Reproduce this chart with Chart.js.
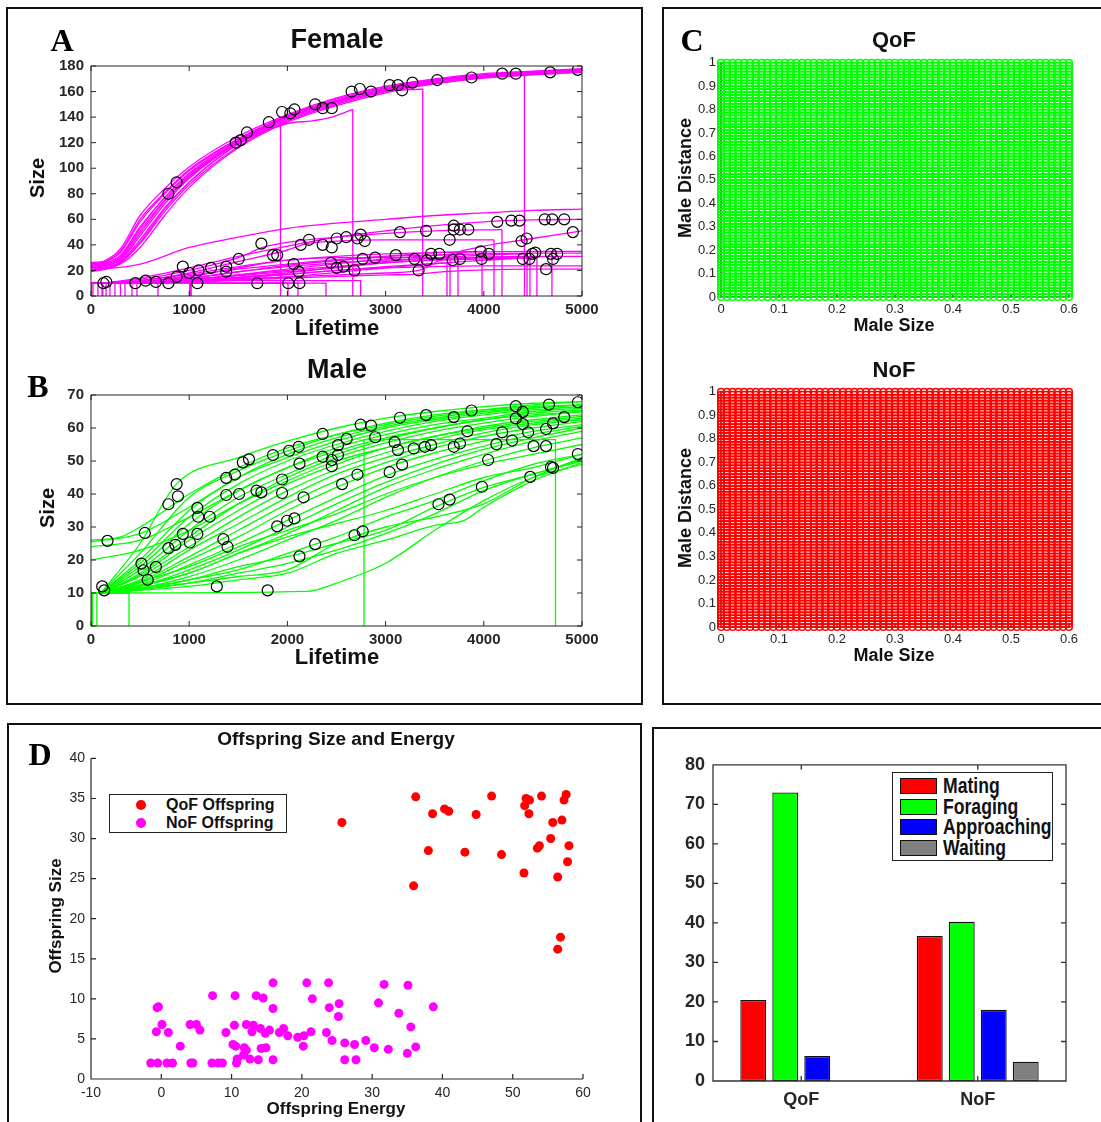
<!DOCTYPE html>
<html><head><meta charset="utf-8">
<script src="https://cdn.jsdelivr.net/npm/chart.js@4.4.1/dist/chart.umd.min.js"></script>
<style>
body{margin:0;background:#fff;}
#page{position:relative;width:1101px;height:1122px;overflow:hidden;background:#fff;font-family:"Liberation Sans",Arial,sans-serif;}
.box{position:absolute;border:2px solid #111;box-sizing:border-box;}
canvas{position:absolute;}
.t{position:absolute;transform:translate(-50%,-50%);white-space:nowrap;color:#111;font-weight:bold;line-height:1;z-index:5;}
.r{transform:translate(-50%,-50%) rotate(-90deg);}
.letter{font-family:"Liberation Serif","DejaVu Serif",serif;font-weight:bold;color:#000;}
.legend{position:absolute;border:1.5px solid #222;background:#fff;box-sizing:border-box;z-index:6;}
.lg-row{position:absolute;white-space:nowrap;font-weight:bold;line-height:1;color:#111;}
</style></head>
<body><div id="page">
<div class="box" style="left:6px;top:7px;width:637px;height:698px"></div>
<div class="box" style="left:662px;top:7px;width:450px;height:698px"></div>
<div class="box" style="left:7px;top:723px;width:635px;height:410px"></div>
<div class="box" style="left:652px;top:727px;width:460px;height:410px"></div>
<canvas id="cA" width="620" height="290" style="left:0;top:50px"></canvas>
<canvas id="cB" width="620" height="290" style="left:0;top:379px"></canvas>
<canvas id="cC1" width="430" height="290" style="left:660px;top:50px"></canvas>
<canvas id="cC2" width="430" height="290" style="left:660px;top:379px"></canvas>
<canvas id="cD" width="620" height="376" style="left:0;top:744px"></canvas>
<canvas id="cE" width="430" height="374" style="left:660px;top:746px"></canvas>
</div>
<script>
// ---------------- DATA ----------------
// Panel A (Female): growth trajectories as [lifetime, size] pairs
const femaleUpper = [
 [[0,26],[150,28],[300,37],[500,63],[750,84],[1000,101],[1500,125],[2000,142],[2500,155],[3000,164],[3500,170],[4000,174],[4500,176],[5000,178]],
 [[0,25],[150,27],[300,34],[500,58],[750,80],[1000,98],[1500,123],[2000,141],[2500,154],[3000,164],[3500,169.5],[4000,173],[4500,175.5],[5000,177.5]],
 [[0,24],[150,26],[300,32],[500,54],[750,77],[1000,96],[1500,122],[2000,140],[2500,153],[3000,163],[3500,169],[4000,173],[4500,175],[5000,177]],
 [[0,23],[150,25],[300,30],[500,51],[750,75],[1000,94],[1500,121],[2000,140],[2500,153],[3000,162],[3500,168.5],[4000,172.5],[4500,175],[5000,177]],
 [[0,22],[150,24],[300,28],[500,47],[750,72],[1000,92],[1500,120],[2000,139],[2500,152],[3000,162],[3500,168],[4000,172],[4500,174.5],[5000,176.5]],
 [[0,21],[150,23],[300,27],[500,44],[750,69],[1000,89],[1500,119],[2000,138],[2500,151],[3000,161],[3500,167],[4000,171.5],[4500,174],[5000,176]],
 [[0,20],[150,22],[300,26],[500,41],[750,66],[1000,87],[1500,117],[2000,137],[2500,150],[3000,160],[3500,166.5],[4000,171],[4500,173.5],[5000,175.5]],
 [[0,19],[150,21],[300,25],[500,38],[750,63],[1000,85],[1500,116],[2000,136],[2500,149],[3000,159],[3500,166],[4000,170.5],[4500,173],[5000,175]],
 [[0,24],[150,26],[300,31],[500,53],[750,77],[1000,95],[1500,121],[1930,139]],
 [[0,20],[150,22],[300,26],[500,42],[750,68],[1000,89],[1500,119],[2000,135],[2250,137],[2450,140],[2666,146]],
 [[0,25],[150,27],[300,35],[500,60],[750,81],[1000,99],[1500,123],[2000,140],[2500,152],[3000,160],[3378,162]],
 [[0,22],[150,24],[300,29],[500,49],[750,74],[1000,93],[1500,121],[2000,140],[2500,153],[3000,162],[3500,168],[4000,172.5],[4414,175]]
];
const femaleLower = [
 [[0,20],[500,25],[1000,38],[1500,46],[2000,53],[2500,57],[3000,60],[3500,63],[4000,65],[4500,67],[5000,68]],
 [[120,10],[500,14],[1000,22],[1500,31],[2000,39],[2500,46],[3000,51],[3500,55],[4000,58],[4500,59.5],[5000,60]],
 [[120,10],[500,13],[1000,20],[1500,30],[1750,38],[2000,42],[2500,46],[3000,49],[3500,51],[4185,52]],
 [[120,10],[500,12],[1000,18],[1500,27],[2000,36],[2200,41],[2500,43],[3000,44],[3500,44],[4104,44]],
 [[120,10],[500,11],[1000,15],[1500,22],[2000,28],[2500,30],[3000,30],[3656,30]],
 [[120,10],[1000,12],[2000,15],[3000,18],[3336,20],[3673,33],[4000,39],[4500,45],[5000,51]],
 [[120,10],[500,12],[1000,17],[1500,23],[2000,28],[2500,31],[3000,33],[3500,34],[4000,34.5],[4500,35],[5000,35]],
 [[120,10],[500,11],[1000,16],[1500,21],[2000,25],[2500,28.5],[3000,31],[3500,32],[4000,33],[4500,33.5],[5000,33.5]],
 [[120,10],[500,11],[1000,14],[1500,19],[2000,23],[2500,26],[3000,28],[3500,29.5],[4000,30.5],[4500,31],[5000,31]],
 [[120,10],[1000,13],[2000,19],[2500,22],[3000,26],[3500,28],[4000,29],[4541,30]],
 [[120,10],[1000,12],[2000,17],[2500,20],[3000,22],[3500,23],[4000,23.5],[4500,23.5],[5000,23.5]],
 [[120,10],[1000,11],[2000,14],[3000,16.5],[3300,17],[3600,19],[4000,20.5],[4500,21],[5000,21]],
 [[120,10],[1000,12],[2000,17],[3000,23],[3625,26]],
 [[120,10],[1000,13],[2000,21],[3000,29],[3737,33]],
 [[120,10],[1000,14],[2000,24],[3000,31],[3500,34],[3982,35]],
 [[120,10],[1000,12],[2000,18],[3000,27],[4000,32],[4440,33]],
 [[120,10],[1000,11],[2000,15],[3000,22],[4000,28],[4470,30]],
 [[120,10],[1000,13],[2000,20],[3000,26],[4000,30],[4694,31]]
];
// short-lived individuals: [birth, death, size]
const femaleStubs = [[0,20,10],[0,71,10],[0,112,10],[0,153,10],[0,193,10],[0,244,10],[0,346,10],[0,417,10],[0,468,10],[0,682,10],[120,1008,10],[1008,2006,10],[1008,2108,10],[300,2393,10],[1020,2746,12]];
const femaleEvents = [[788,80],[872,89],[1474,120],[1525,122],[1588,128],[1811,136],[1946,144],[2030,143],[2072,146],[2283,150],[2359,147],[2452,147],[2654,160],[2738,162],[2852,160],[3041,165],[3126,165],[3168,161],[3273,167],[3526,169],[3875,171],[4187,174],[4326,174],[4676,175],[4958,177],
 [126,10],[156,11],[451,10],[556,12],[661,11],[788,10],[872,15],[935,23],[1000,18],[1083,10],[1095,20],[1222,22],[1377,23],[1377,19],[1504,29],[1693,10],[1735,41],[1853,32],[1896,32],[2009,10],[2064,25],[2115,19],[2123,10],[2136,40],[2220,44],[2359,40],[2452,38],[2443,26],[2502,45],[2502,22],[2570,23],[2599,46],[2683,20],[2713,45],[2746,48],[2788,43],[2767,29],[2894,30],[3104,32],[3146,50],[3294,29],[3336,20],[3412,51],[3420,28],[3463,33],[3547,33],[3652,44],[3694,55],[3694,52],[3682,28],[3757,52],[3757,29],[3842,52],[3968,35],[3977,29],[4052,33],[4137,58],[4280,59],[4364,59],[4385,43],[4436,45],[4397,29],[4465,29],[4494,33],[4524,34],[4634,21],[4621,60],[4697,60],[4684,33],[4705,29],[4747,33],[4819,60],[4907,50]];

// Panel B (Male)
const maleCurves = [
 [[0,26],[300,27],[500,30],[1000,40],[1500,48],[2000,54],[2500,58],[3000,61],[3500,63.5],[4000,65.5],[4500,67],[5000,68]],
 [[0,25.5],[500,28],[1000,36],[1500,45],[2000,51],[2500,56],[3000,60],[3500,62.5],[4000,64.5],[4500,66],[5000,67]],
 [[0,24],[500,26],[1000,33],[1500,41],[2000,48],[2500,53],[3000,57],[3500,60],[4000,62.5],[4500,64],[5000,65]],
 [[0,20],[500,23],[1000,29],[1500,37],[2000,44],[2500,50],[3000,54],[3500,57.5],[4000,60],[4500,62],[5000,63.5]],
 [[100,10],[500,25],[870,43],[1500,51],[2000,56],[2500,60],[3000,63],[3500,65],[4000,66.5],[4500,67.5],[5000,68]],
 [[100,10],[500,22],[1000,39],[1500,47],[2000,53],[2500,58],[3000,61.5],[3500,64],[4000,65.5],[4500,66.5],[5000,67]],
 [[100,10],[500,20],[1000,35],[1500,45],[2000,52],[2500,57],[3000,60.5],[3500,63],[4000,65],[4500,66],[5000,67]],
 [[100,10],[500,19],[1000,33],[1500,43],[2000,50],[2500,55],[3000,59],[3500,62],[4000,64],[4500,65.5],[5000,66.5]],
 [[100,10],[500,18],[1000,31],[1500,41],[2000,48],[2500,54],[3000,58],[3500,61],[4000,63],[4500,65],[5000,66]],
 [[100,10],[500,17],[1000,29],[1500,39],[2000,46],[2500,52],[3000,56.5],[3500,60],[4000,62.5],[4500,64.5],[5000,65.5]],
 [[100,10],[500,16],[1000,27],[1500,37],[2000,45],[2500,51],[3000,55.5],[3500,59],[4000,61.5],[4500,63.5],[5000,65]],
 [[100,10],[500,15.5],[1000,26],[1500,35],[2000,43],[2500,49],[3000,54],[3500,57.5],[4000,60.5],[4500,62.5],[5000,64]],
 [[100,10],[500,15],[1000,24],[1500,33],[2000,41],[2500,47.5],[3000,52.5],[3500,56.5],[4000,59.5],[4500,61.5],[5000,63]],
 [[100,10],[500,14],[1000,23],[1500,31],[2000,39],[2500,46],[3000,51],[3500,55],[4000,58.5],[4500,61],[5000,62.5]],
 [[100,10],[500,13.5],[1000,21],[1500,29],[2000,37],[2500,44],[3000,49.5],[3500,54],[4000,57.5],[4500,60],[5000,62]],
 [[100,10],[500,13],[1000,20],[1500,27],[2000,35],[2500,42],[3000,48],[3500,52.5],[4000,56],[4500,59],[5000,61]],
 [[100,10],[500,12.5],[1000,18.5],[1500,25],[2000,32],[2500,39],[3000,45.5],[3500,50.5],[4000,54.5],[4500,58],[5000,60.5]],
 [[100,10],[500,12],[1000,17],[1500,23],[2000,30],[2500,37],[3000,43.5],[3500,49],[4000,53.5],[4500,57],[5000,60]],
 [[100,10],[500,12],[1000,16],[1500,22],[2000,28],[2500,35],[3000,42],[3500,47.5],[4000,52],[4500,56],[5000,59]],
 [[100,10],[500,11.5],[1000,15],[1500,20],[2000,26],[2500,32],[3000,39],[3500,45],[4000,50],[4500,54],[5000,57]],
 [[100,10],[500,11],[1000,14],[1500,17],[2000,22],[2500,27],[3000,33],[3500,38],[4000,44],[4500,49],[5000,52]],
 [[100,10],[500,11],[1000,13],[1500,16],[2000,19],[2500,23],[3000,28],[3500,34],[4000,41],[4500,46],[5000,50]],
 [[100,10],[1000,13],[1500,15],[2000,17],[2500,25],[3000,30],[3500,33],[4000,37],[4500,45],[5000,51]],
 [[100,10],[1000,12],[1500,14],[2000,16],[2500,22],[3000,26],[3500,30.5],[3800,32],[4000,36],[4500,44],[5000,49.5]],
 [[100,10],[2200,10.5],[2500,13],[3000,19],[3500,29],[4000,38],[4500,45],[5000,49]],
 [[100,10],[1000,14],[1500,18],[2000,21],[2500,25],[3000,29],[3500,36],[4000,42],[4500,46],[5000,50.5]],
 [[100,10],[1000,16],[1500,22],[2000,27],[2500,31],[3000,35],[3500,40],[4000,45],[4500,48],[5000,52]],
 [[100,10],[1000,18],[1500,24],[2000,29],[2500,34],[3000,40],[3500,45],[4000,49],[4500,52],[5000,55]]
];
const maleStubs = [[0,15,10],[0,60,10],[0,387,10],[2780,4730,56.5]];
const maleEvents = [[168,25.8],[114,12],[135,10.8],[548,28.2],[514,18.9],[535,16.9],[577,14],[661,17.9],[788,23.6],[859,24.6],[788,36.9],[885,39.3],[872,43],[935,27.9],[1007,25.3],[1083,35.8],[1091,33.1],[1083,27.9],[1209,33.1],[1281,12],[1348,26.3],[1390,24],[1377,44.9],[1377,39.7],[1466,45.9],[1508,40],[1546,49.6],[1609,50.5],[1685,41],[1735,40.5],[1799,10.8],[1853,51.8],[1896,30.2],[1946,44.4],[1946,40.3],[1997,31.9],[2018,53.1],[2072,32.6],[2115,54.3],[2123,21.1],[2123,49.2],[2165,39],[2283,24.8],[2359,58.2],[2359,51.3],[2452,50.3],[2452,48.4],[2515,54.8],[2515,51.8],[2557,43],[2603,56.7],[2683,27.5],[2713,45.9],[2746,61],[2767,28.7],[2852,60.7],[2894,57.2],[3041,46.6],[3092,55.7],[3126,53.3],[3146,63.1],[3168,48.9],[3286,53.8],[3400,54.3],[3412,63.9],[3463,54.8],[3538,36.9],[3652,38.3],[3694,63.3],[3694,54.3],[3757,55.3],[3833,59],[3875,65.3],[3981,42.2],[4044,50.3],[4128,55.1],[4187,58.7],[4288,56.2],[4326,66.6],[4326,62.9],[4397,64.9],[4397,61.2],[4452,58.7],[4473,45.2],[4507,54.5],[4634,59.7],[4634,54.5],[4663,67.1],[4684,48.2],[4705,47.9],[4705,61.4],[4819,63.3],[4958,67.8],[4958,52.1]];

// Panel C: parameter grid (male size x male distance)
const maleSizeGrid = [0,0.01,0.02,0.03,0.04,0.05,0.06,0.07,0.08,0.09,0.1,0.11,0.12,0.13,0.14,0.15,0.16,0.17,0.18,0.19,0.2,0.21,0.22,0.23,0.24,0.25,0.26,0.27,0.28,0.29,0.3,0.31,0.32,0.33,0.34,0.35,0.36,0.37,0.38,0.39,0.4,0.41,0.42,0.43,0.44,0.45,0.46,0.47,0.48,0.49,0.5,0.51,0.52,0.53,0.54,0.55,0.56,0.57,0.58,0.59,0.6];
const maleDistGrid = [0,0.0125,0.025,0.0375,0.05,0.0625,0.075,0.0875,0.1,0.1125,0.125,0.1375,0.15,0.1625,0.175,0.1875,0.2,0.2125,0.225,0.2375,0.25,0.2625,0.275,0.2875,0.3,0.3125,0.325,0.3375,0.35,0.3625,0.375,0.3875,0.4,0.4125,0.425,0.4375,0.45,0.4625,0.475,0.4875,0.5,0.5125,0.525,0.5375,0.55,0.5625,0.575,0.5875,0.6,0.6125,0.625,0.6375,0.65,0.6625,0.675,0.6875,0.7,0.7125,0.725,0.7375,0.75,0.7625,0.775,0.7875,0.8,0.8125,0.825,0.8375,0.85,0.8625,0.875,0.8875,0.9,0.9125,0.925,0.9375,0.95,0.9625,0.975,0.9875,1];

// Panel D: [offspring energy, offspring size]
const qofOffspring = [[36.2,35.2],[25.7,32.0],[38.6,33.1],[40.3,33.7],[40.9,33.4],[44.8,33.0],[47.0,35.3],[38.0,28.5],[43.2,28.3],[48.4,28.0],[35.9,24.1],[51.6,25.7],[51.7,34.1],[51.9,35.0],[52.4,34.8],[52.3,33.1],[54.1,35.3],[53.5,28.8],[53.8,29.1],[55.4,30.0],[55.7,32.0],[57.0,32.3],[56.4,25.2],[57.3,34.8],[57.6,35.5],[57.8,27.1],[58.0,29.1],[56.8,17.7],[56.4,16.2]];
const nofOffspring = [[-1.5,2.0],[-0.5,2.0],[0.8,2.0],[1.6,2.0],[4.2,2.0],[4.5,2.0],[7.2,2.0],[8.1,2.0],[8.7,2.0],[10.7,2.0],[10.8,2.5],[12.6,2.5],[13.8,2.4],[15.9,2.4],[26.1,2.4],[27.7,2.4],[11.7,3.0],[12.1,3.6],[11.8,3.9],[10.2,4.3],[10.6,4.1],[14.2,3.8],[14.9,3.9],[2.7,4.1],[20.2,4.1],[24.3,4.8],[26.1,4.5],[27.5,4.3],[29.1,4.8],[30.3,3.9],[32.3,3.7],[35.0,3.2],[36.2,4.0],[-0.7,5.9],[1.0,5.8],[9.2,5.8],[12.9,5.9],[14.8,5.7],[15.4,6.1],[5.5,6.1],[0.1,6.8],[4.1,6.8],[5.0,6.8],[10.4,6.7],[12.1,6.8],[13.1,6.7],[14.1,6.3],[16.8,5.8],[17.4,6.3],[18.0,5.4],[19.4,5.2],[20.3,5.4],[21.3,5.9],[23.5,5.8],[33.8,8.2],[35.5,6.5],[-0.6,8.9],[-0.4,9.0],[15.9,8.8],[23.9,8.9],[25.3,9.4],[25.2,7.8],[30.9,9.5],[38.7,9.0],[7.3,10.4],[10.5,10.4],[13.5,10.4],[14.5,10.1],[21.5,10.0],[15.9,12.0],[20.7,12.0],[23.8,12.0],[31.7,11.8],[35.1,11.7]];
const offspringSeries = ['QoF Offspring','NoF Offspring'];

// Panel E: behaviour percentages
const conditions = ['QoF','NoF'];
const behaviours = ['Mating','Foraging','Approaching','Waiting'];
const mating = [20.5, 36.7];
const foraging = [73, 40.3];
const approaching = [6.3, 18];
const waiting = [0, 4.9];

// ---------------- STYLE / HELPERS ----------------
const FONT = '"Liberation Sans", Arial, sans-serif';
const TICK = '#262626';
const MAGENTA = '#ff00ff', GREEN = '#00ff00', RED = '#ff0000', BLUE = '#0000ff', GREY = '#808080';

function drawFrame(chart, o){
  const ctx = chart.ctx, a = chart.chartArea, xs = chart.scales.x, ys = chart.scales.y;
  ctx.save(); ctx.strokeStyle = o.color; ctx.lineWidth = o.width; ctx.beginPath();
  if (o.box) ctx.rect(a.left, a.top, a.right - a.left, a.bottom - a.top);
  else { ctx.moveTo(a.left, a.top); ctx.lineTo(a.left, a.bottom); ctx.lineTo(a.right, a.bottom); }
  xs.ticks.forEach((t, i) => { const p = xs.getPixelForTick(i);
    ctx.moveTo(p, a.bottom); ctx.lineTo(p, a.bottom - o.tick);
    if (o.box) { ctx.moveTo(p, a.top); ctx.lineTo(p, a.top + o.tick); } });
  ys.ticks.forEach((t, i) => { const p = ys.getPixelForTick(i);
    ctx.moveTo(a.left, p); ctx.lineTo(a.left + o.tick, p);
    if (o.box) { ctx.moveTo(a.right, p); ctx.lineTo(a.right - o.tick, p); } });
  ctx.stroke(); ctx.restore();
}
Chart.register({
  id: 'frame',
  defaults: {enabled: false, box: true, color: '#262626', width: 1, tick: 5, layer: 'above'},
  beforeDatasetsDraw(chart, args, o){ if (o.enabled && o.layer === 'below') drawFrame(chart, o); },
  afterDatasetsDraw(chart, args, o){ if (o.enabled && o.layer !== 'below') drawFrame(chart, o); }
});

function linAxis(min, max, step, font, pad, fit, isX, fmt){
  return { type: 'linear', min, max,
    ticks: { stepSize: step, font, color: TICK, padding: pad, autoSkip: false, maxRotation: 0,
             callback: fmt || (v => String(v)) },
    grid: { display: false, drawTicks: false }, border: { display: false },
    afterFit(s){ if (isX) s.height = fit; else s.width = fit; } };
}
const pts = arr => arr.map(p => ({x: p[0], y: p[1]}));

function lifeDatasets(curves, stubs, events, color){
  const ds = [];
  ds.push({ data: pts(events), showLine: false, pointRadius: 5.5, pointBorderColor: '#000',
            pointBorderWidth: 1.2, pointBackgroundColor: 'rgba(0,0,0,0)', order: -1 });
  curves.forEach(c => {
    ds.push({ data: pts(c), showLine: true, pointRadius: 0, borderColor: color, borderWidth: 1.3,
              cubicInterpolationMode: 'monotone', fill: false });
    const last = c[c.length - 1];
    if (last[0] < 5000) ds.push({ data: [{x: last[0], y: last[1]}, {x: last[0], y: 0}], showLine: true,
              pointRadius: 0, borderColor: color, borderWidth: 1.3, tension: 0 });
  });
  stubs.forEach(s => ds.push({ data: [{x: s[0], y: 0}, {x: s[0], y: s[2]}, {x: s[1], y: s[2]}, {x: s[1], y: 0}],
              showLine: true, pointRadius: 0, borderColor: color, borderWidth: 1.3, tension: 0 }));
  return ds;
}
const base = { animation: false, responsive: false, events: [], devicePixelRatio: 1 };
const bold15 = { family: FONT, size: 15, weight: 'bold' };

function lifeChart(id, ds, ymax, ystep, topPad, xFit){
  return new Chart(document.getElementById(id), { type: 'scatter', data: { datasets: ds },
    options: Object.assign({}, base, {
      layout: { padding: { top: topPad, right: 38, left: 0, bottom: 0 } },
      plugins: { legend: { display: false }, tooltip: { enabled: false }, frame: { enabled: true, box: true, tick: 5 } },
      scales: { x: linAxis(0, 5000, 1000, bold15, 5, xFit, true), y: linAxis(0, ymax, ystep, bold15, 7, 91, false) }
    }) });
}
lifeChart('cA', lifeDatasets(femaleUpper.concat(femaleLower), femaleStubs, femaleEvents, MAGENTA), 180, 20, 10, 44);
lifeChart('cB', lifeDatasets(maleCurves, maleStubs, maleEvents, GREEN), 70, 10, 10, 43);

// Panel C
const gridPoints = [];
maleSizeGrid.forEach(x => maleDistGrid.forEach(y => gridPoints.push({x, y})));
const reg13 = { family: FONT, size: 13 };
function gridChart(id, color, xFit){
  return new Chart(document.getElementById(id), { type: 'scatter',
    data: { datasets: [{ data: gridPoints, pointRadius: 3.3, pointBorderWidth: 1.5, pointBorderColor: color,
      pointBackgroundColor: 'rgba(0,0,0,0)', clip: false }] },
    options: Object.assign({}, base, {
      layout: { padding: { top: 10, right: 21, left: 0, bottom: 0 } },
      plugins: { legend: { display: false }, tooltip: { enabled: false },
                 frame: { enabled: true, box: false, tick: 4, layer: 'below', color: '#333', width: 1.5 } },
      scales: { x: linAxis(0, 0.6, 0.1, reg13, 5, xFit, true, v => String(Math.round(v * 10) / 10)),
                y: linAxis(0, 1, 0.1, reg13, 5, 61, false, v => String(Math.round(v * 10) / 10)) }
    }) });
}
gridChart('cC1', GREEN, 43);
gridChart('cC2', RED, 42);

// Panel D
const reg14 = { family: FONT, size: 14 };
new Chart(document.getElementById('cD'), { type: 'scatter',
  data: { datasets: [
    { label: offspringSeries[0], data: pts(qofOffspring), pointRadius: 4.5, pointBackgroundColor: RED, pointBorderColor: RED, pointBorderWidth: 0 },
    { label: offspringSeries[1], data: pts(nofOffspring), pointRadius: 4.5, pointBackgroundColor: MAGENTA, pointBorderColor: MAGENTA, pointBorderWidth: 0 } ] },
  options: Object.assign({}, base, {
    layout: { padding: { top: 10, right: 37, left: 0, bottom: 0 } },
    plugins: { legend: { display: false }, tooltip: { enabled: false },
               frame: { enabled: true, box: false, tick: 5, color: '#262626', width: 1.2 } },
    scales: { x: linAxis(-10, 60, 10, reg14, 6, 41, true), y: linAxis(0, 40, 5, reg14, 6, 91, false) }
  }) });

// Panel E (bar)
const bold18 = { family: FONT, size: 18, weight: 'bold' };
const barColors = [RED, GREEN, BLUE, GREY];
const barValues = [mating, foraging, approaching, waiting];
new Chart(document.getElementById('cE'), { type: 'bar',
  data: { labels: conditions, datasets: behaviours.map((b, i) => ({ label: b, data: barValues[i],
    backgroundColor: barColors[i], borderColor: '#111', borderWidth: 1.3, borderSkipped: false,
    categoryPercentage: 0.725, barPercentage: 0.81 })) },
  options: Object.assign({}, base, {
    layout: { padding: { top: 12, right: 24, left: 0, bottom: 0 } },
    plugins: { legend: { display: false }, tooltip: { enabled: false },
               frame: { enabled: true, box: true, tick: 5, color: '#333', width: 1.3 } },
    scales: {
      x: { type: 'category', ticks: { font: bold18, color: TICK, padding: 8 }, grid: { display: false, drawTicks: false },
           border: { display: false }, afterFit(s){ s.height = 39; } },
      y: linAxis(0, 80, 10, bold18, 8, 53, false)
    }
  }) });

// ---------------- TEXT OVERLAYS ----------------
const page = document.getElementById('page');
function txt(s, x, y, size, opts){
  opts = opts || {};
  const d = document.createElement('div');
  d.className = 't' + (opts.rot ? ' r' : '') + (opts.letter ? ' letter' : '');
  d.textContent = s; d.style.left = x + 'px'; d.style.top = y + 'px'; d.style.fontSize = size + 'px';
  page.appendChild(d);
}
txt('A', 62, 40, 32, {letter: 1});
txt('Female', 337, 39, 27);
txt('Size', 37, 178, 20, {rot: 1});
txt('Lifetime', 337, 328, 22);
txt('B', 38, 386, 32, {letter: 1});
txt('Male', 337, 369, 27);
txt('Size', 47, 508, 20, {rot: 1});
txt('Lifetime', 337, 657, 22);
txt('C', 692, 40, 32, {letter: 1});
txt('QoF', 894, 40, 22);
txt('Male Distance', 685, 178, 18, {rot: 1});
txt('Male Size', 894, 325, 18);
txt('NoF', 894, 370, 22);
txt('Male Distance', 685, 508, 18, {rot: 1});
txt('Male Size', 894, 655, 18);
txt('D', 40, 754, 32, {letter: 1});
txt('Offspring Size and Energy', 336, 738, 19);
txt('Offspring Size', 55, 916, 17, {rot: 1});
txt('Offspring Energy', 336, 1108, 17);

// Legend D
(function(){
  const lg = document.createElement('div'); lg.className = 'legend';
  Object.assign(lg.style, { left: '109px', top: '794px', width: '178px', height: '39px' });
  const cols = [RED, MAGENTA];
  offspringSeries.forEach((name, i) => {
    const m = document.createElement('div');
    Object.assign(m.style, { position: 'absolute', left: (31 - 5) + 'px', top: (10 + i * 18 - 5) + 'px', width: '10px', height: '10px', borderRadius: '50%', background: cols[i] });
    lg.appendChild(m);
    const t = document.createElement('div'); t.className = 'lg-row'; t.textContent = name;
    Object.assign(t.style, { left: '56px', top: (10 + i * 18 - 8) + 'px', fontSize: '16px' });
    lg.appendChild(t);
  });
  page.appendChild(lg);
})();
// Legend E
(function(){
  const lg = document.createElement('div'); lg.className = 'legend';
  Object.assign(lg.style, { left: '892px', top: '772px', width: '161px', height: '89px' });
  behaviours.forEach((name, i) => {
    const cy = 13 + i * 20.7;
    const sw = document.createElement('div');
    Object.assign(sw.style, { position: 'absolute', left: '7px', top: (cy - 8) + 'px', width: '37px', height: '16px', background: barColors[i], border: '1.5px solid #111', boxSizing: 'border-box' });
    lg.appendChild(sw);
    const t = document.createElement('div'); t.className = 'lg-row'; t.textContent = name;
    Object.assign(t.style, { left: '50px', top: (cy - 11) + 'px', fontSize: '22px', transform: 'scaleX(0.8)', transformOrigin: 'left center' });
    lg.appendChild(t);
  });
  page.appendChild(lg);
})();
</script>
</body></html>
